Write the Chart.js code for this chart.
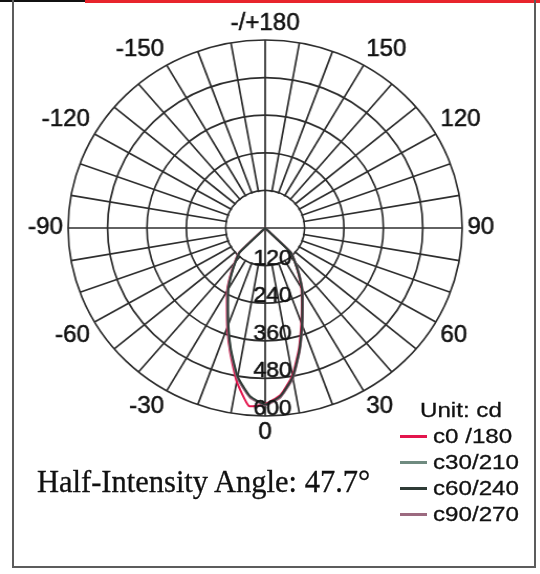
<!DOCTYPE html>
<html>
<head>
<meta charset="utf-8">
<script src="https://cdn.jsdelivr.net/npm/chart.js@4.4.0/dist/chart.umd.min.js"></script>
<style>
  html, body { margin: 0; padding: 0; background: #fff; }
  body { width: 540px; height: 574px; position: relative; overflow: hidden; font-family: 'Liberation Sans', Arial, sans-serif; color: #111; }
  .bar-dark { position: absolute; left: 0; top: 0; width: 85px; height: 2px; background: #111; }
  .bar-red { position: absolute; left: 85px; top: 0; width: 455px; height: 3px; background: #e8242c; }
  .frame { position: absolute; left: 12px; top: 0; width: 520px; height: 566px; border: 2px solid #5c5c5c; border-top: none; }
  /* polar plot is drawn a bit wider than tall */
  .plot { position: absolute; left: 0; top: 0; width: 515px; height: 574px; transform: scaleX(1.048); transform-origin: 0 0; }
  .legend { position: absolute; left: 400px; top: 397px; }
  .legend .row { height: 26px; line-height: 26px; display: flex; align-items: center; white-space: nowrap; }
  .legend .swatch { width: 27px; height: 3px; margin-right: 6px; }
  .legend .txt { font-size: 21px; display: inline-block; transform: scaleX(1.15); transform-origin: 0 50%; -webkit-text-stroke: 0.3px #111; }
  .legend .unit { margin-left: 20px; }
  .half { position: absolute; left: 37px; top: 465px; font-family: 'Liberation Serif', 'Times New Roman', serif; font-size: 30.5px; white-space: nowrap; -webkit-text-stroke: 0.3px #111; }
</style>
</head>
<body>
<div class="bar-dark"></div>
<div class="bar-red"></div>
<div class="frame"></div>
<div class="plot"><canvas id="polar"></canvas></div>
<div class="legend" id="legend"></div>
<div class="half">Half-Intensity Angle: 47.7°</div>

<script>
// ring values (cd) and the angle marks printed every 30°, clockwise from the bottom
const ringValues = [120, 240, 360, 480, 600];
const angleMarks = ['0', '-30', '-60', '-90', '-120', '-150', '-/+180', '150', '120', '90', '60', '30'];

// measured intensity (cd) per C-plane, gamma -50..50 in 5° steps
const lobeAngles = [-50, -45, -40, -35, -30, -25, -20, -15, -10, -5, 0, 5, 10, 15, 20, 25, 30, 35, 40, 45, 50];
const c0   = [0, 114, 145, 185, 232, 276, 338, 412, 498, 570, 562, 535, 478, 398, 322, 264, 220, 176, 140, 110, 0];
const c30  = [0, 112, 142, 180, 226, 270, 330, 405, 485, 540, 565, 540, 485, 405, 330, 270, 226, 180, 142, 112, 0];
const c60  = [0, 110, 140, 178, 224, 268, 328, 402, 482, 538, 563, 538, 483, 403, 328, 268, 224, 178, 140, 110, 0];
const c90  = [0, 113, 143, 182, 228, 272, 332, 407, 487, 542, 566, 542, 487, 407, 332, 272, 228, 182, 143, 113, 0];

const seriesNames  = ['c0 /180', 'c30/210', 'c60/240', 'c90/270'];
const seriesData   = [c0, c30, c60, c90];
const seriesColors = ['#e3154d', '#6f8b80', '#2e3b36', '#9c6a80'];
const seriesOrder  = [3, 2, 0, 1];

const GRID = '#2e2e2e';
const GRID_W = 1.7;
const STEP = 5;

// one radar spoke every 5°, starting at the bottom and running clockwise
const gammaAt = [];
for (let i = 0; i < 360 / STEP; i++) {
    gammaAt.push(i <= 36 ? -STEP * i : 360 - STEP * i);
}

const datasets = seriesData.map((vals, s) => ({
    label: seriesNames[s],
    data: gammaAt.map(g => {
        const k = lobeAngles.indexOf(g);
        return k >= 0 ? vals[k] : 0;
    }),
    borderColor: seriesColors[s],
    borderWidth: 2,
    fill: false,
    pointRadius: 0,
    order: seriesOrder[s],
}));

function drawText(ctx, txt, x, y) {
    ctx.strokeText(txt, x, y);
    ctx.fillText(txt, x, y);
}

const polarDecor = {
    id: 'polarDecor',
    beforeDatasetsDraw(chart) {
        const r = chart.scales.r;
        const ctx = chart.ctx;
        const inner = r.getDistanceFromCenterForValue(ringValues[0]);
        ctx.save();
        // spokes stop at the first ring, only the cross goes through
        ctx.beginPath();
        ctx.arc(r.xCenter, r.yCenter, inner - 1, 0, Math.PI * 2);
        ctx.fillStyle = '#fff';
        ctx.fill();
        ctx.strokeStyle = GRID;
        ctx.lineWidth = GRID_W;
        [[0, 36], [18, 54]].forEach(([a, b]) => {
            const p = r.getPointPosition(a, inner);
            const q = r.getPointPosition(b, inner);
            ctx.beginPath();
            ctx.moveTo(p.x, p.y);
            ctx.lineTo(q.x, q.y);
            ctx.stroke();
        });
        ctx.restore();
    },
    afterDatasetsDraw(chart) {
        const r = chart.scales.r;
        const ctx = chart.ctx;
        ctx.save();
        ctx.fillStyle = '#111';
        ctx.strokeStyle = '#111';
        ctx.lineWidth = 0.5;

        // ring values along the 0° spoke
        ctx.font = '22px "Liberation Sans", Arial, sans-serif';
        ctx.textAlign = 'center';
        ctx.textBaseline = 'alphabetic';
        ringValues.forEach(v => {
            const p = r.getPointPosition(0, r.getDistanceFromCenterForValue(v));
            drawText(ctx, String(v), p.x + 7, p.y - 1);
        });

        // angle marks just outside the outer ring
        ctx.font = '23px "Liberation Sans", Arial, sans-serif';
        const outer = r.getDistanceFromCenterForValue(r.max) + 5;
        angleMarks.forEach((txt, k) => {
            const p = r.getPointPosition(k * 30 / STEP, outer);
            const dx = p.x - r.xCenter;
            const dy = p.y - r.yCenter;
            ctx.textAlign = Math.abs(dx) < 3 ? 'center' : (dx > 0 ? 'left' : 'right');
            ctx.textBaseline = Math.abs(dy) < 3 ? 'middle' : (dy < 0 ? 'bottom' : 'top');
            drawText(ctx, txt, p.x, p.y);
        });
        ctx.restore();
    },
};

new Chart(document.getElementById('polar'), {
    type: 'radar',
    data: { labels: gammaAt, datasets },
    options: {
        responsive: true,
        maintainAspectRatio: false,
        animation: false,
        layout: { padding: { left: 65, right: 74, top: 40, bottom: 158 } },
        plugins: { legend: { display: false }, tooltip: { enabled: false } },
        elements: { line: { tension: 0.15 } },
        scales: {
            r: {
                min: 0,
                max: 600,
                startAngle: 180,
                ticks: { stepSize: 120, display: false },
                grid: { circular: true, color: GRID, lineWidth: GRID_W },
                angleLines: {
                    color: GRID,
                    lineWidth: (c) => (c.index % 2 ? 0 : GRID_W),
                },
                pointLabels: { display: false },
            },
        },
    },
    plugins: [polarDecor],
});

// legend block
const legendBox = document.getElementById('legend');
legendBox.innerHTML = '<div class="row"><span class="txt unit">Unit: cd</span></div>' +
    seriesNames.map((name, i) =>
        `<div class="row"><span class="swatch" style="background:${seriesColors[i]}"></span><span class="txt">${name}</span></div>`
    ).join('');
</script>
</body>
</html>
